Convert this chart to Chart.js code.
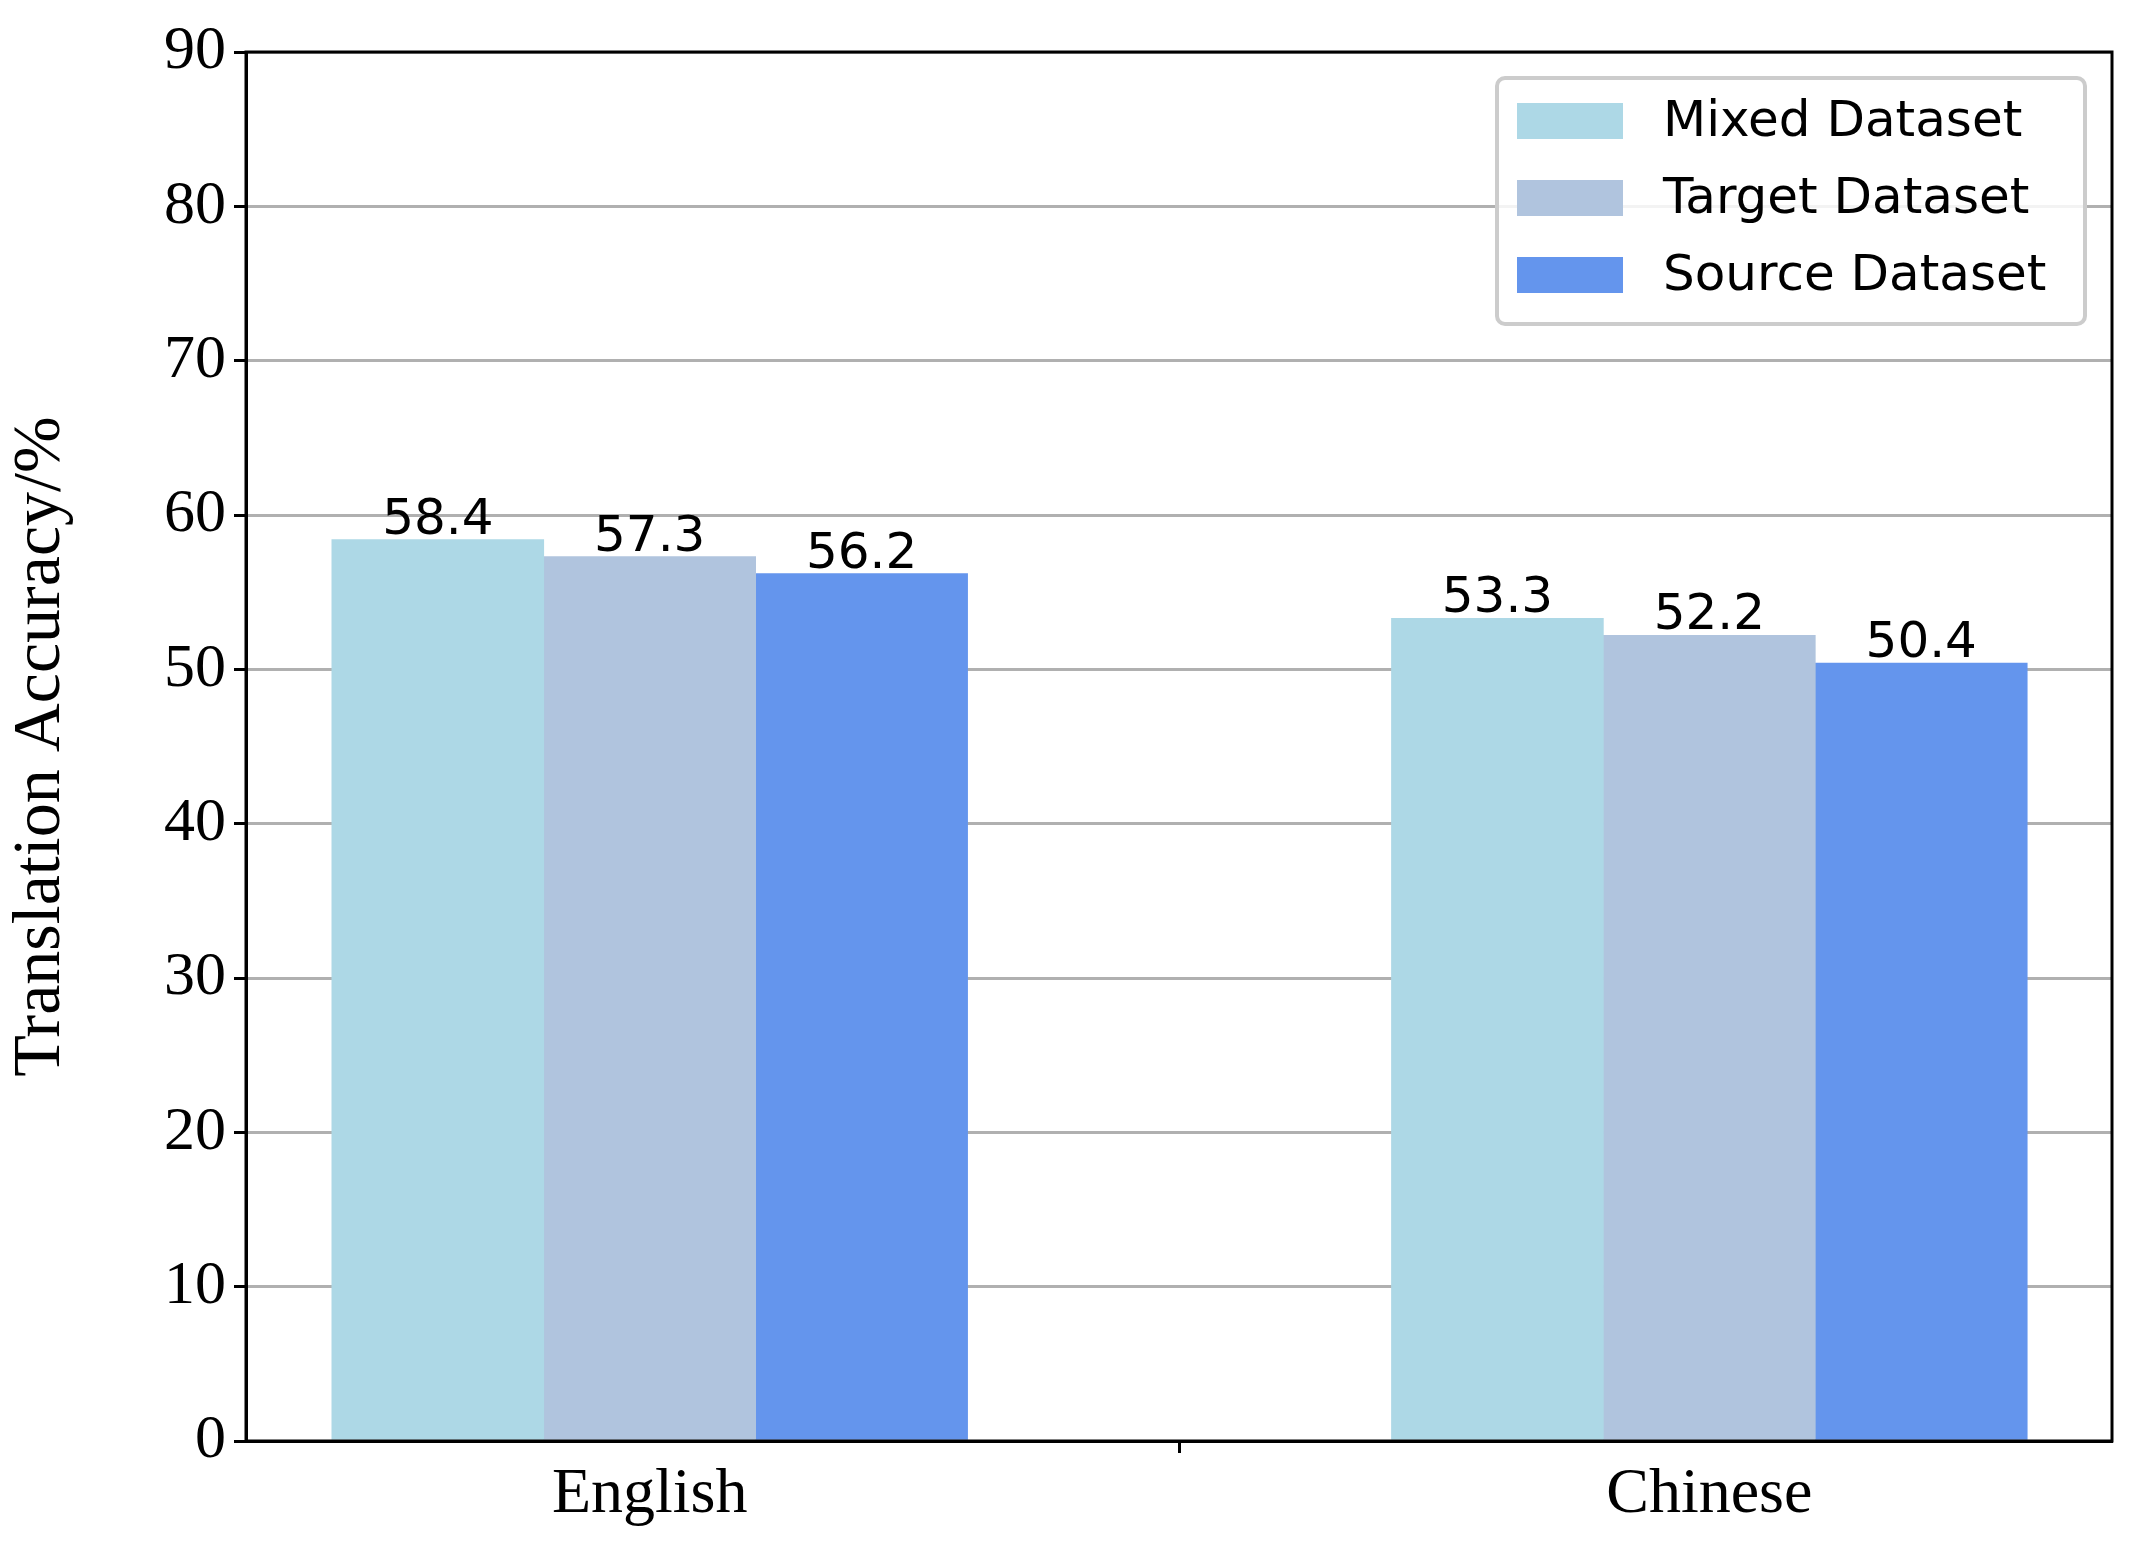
<!DOCTYPE html>
<html><head><meta charset="utf-8">
<script src="https://cdn.jsdelivr.net/npm/chart.js@4/dist/chart.umd.min.js"></script>
<style>html,body{margin:0;padding:0;background:#fff}#wrap{width:2135px;height:1557px}</style>
</head><body><div id="wrap"><canvas id="c"></canvas></div>
<script>
const categories = ["English", "Chinese"];
const seriesNames = ["Mixed Dataset", "Target Dataset", "Source Dataset"];
const mixed = [58.4, 53.3];
const target = [57.3, 52.2];
const source = [56.2, 50.4];
const colors = ["#ADD8E6", "#B0C4DE", "#6495ED"];
const yTicks = [0,10,20,30,40,50,60,70,80,90];
const offsets = [-0.2, 0, 0.2];
const seriesVals = [mixed, target, source];

const datasets = seriesVals.map((vals, s) => ({
  label: seriesNames[s],
  data: vals.map((v, i) => ({x: i + offsets[s], y: v})),
  backgroundColor: colors[s],
  barPercentage: 1, categoryPercentage: 1, grouped: false
}));

const frame = {
  id: 'frame',
  afterDatasetsDraw(chart) {
    const ctx = chart.ctx, a = chart.chartArea;
    // data labels
    ctx.save();
    ctx.font = '50px "DejaVu Sans"';
    ctx.fillStyle = '#000'; ctx.textAlign = 'center'; ctx.textBaseline = 'bottom';
    chart.data.datasets.forEach((d, di) => {
      chart.getDatasetMeta(di).data.forEach((bar, i) => {
        ctx.fillText(seriesVals[di][i].toFixed(1), bar.x, bar.y + 6);
      });
    });
    // border
    ctx.strokeStyle = '#000'; ctx.lineWidth = 3;
    ctx.strokeRect(a.left, a.top, a.right - a.left, a.bottom - a.top);
    // legend
    const lx = 1497, ly = 78, lw = 588, lh = 246;
    ctx.fillStyle = 'rgba(255,255,255,0.85)';
    ctx.beginPath(); ctx.roundRect(lx, ly, lw, lh, 8); ctx.fill();
    ctx.strokeStyle = '#ccc'; ctx.lineWidth = 4; ctx.stroke();
    ctx.font = '50px "DejaVu Sans"'; ctx.textAlign = 'left'; ctx.textBaseline = 'middle';
    chart.data.datasets.forEach((d, i) => {
      const cy = ly + 43 + i * 77;
      ctx.fillStyle = d.backgroundColor;
      ctx.fillRect(lx + 20, cy - 18, 106, 36);
      ctx.fillStyle = '#000';
      ctx.fillText(d.label, lx + 166, cy + 2);
    });
    ctx.restore();
  }
};

new Chart(document.getElementById('c'), {
  type: 'bar',
  data: { datasets },
  plugins: [frame],
  options: {
    responsive: true, maintainAspectRatio: false, animation: false,
    layout: { padding: { top: 52, right: 23, left: 0, bottom: 0 } },
    plugins: { legend: { display: false }, tooltip: { enabled: false } },
    scales: {
      x: {
        type: 'linear', min: -0.381, max: 1.380, offset: false,
        afterBuildTicks: s => { s.ticks = categories.map((c, i) => ({value: i})); },
        afterFit: s => { s.height = 116; },
        ticks: { callback: v => categories[v], font: { family: '"Liberation Serif"', size: 64 }, color: '#000', padding: 4, maxRotation: 0 },
        grid: { drawOnChartArea: false, drawTicks: true, tickLength: 12, tickWidth: 3, tickColor: '#000' },
        border: { display: true, color: '#000', width: 3 }
      },
      y: {
        min: 0, max: 90,
        afterBuildTicks: s => { s.ticks = yTicks.map(v => ({value: v})); },
        afterFit: s => { s.width = 246; },
        ticks: { font: { family: '"Liberation Serif"', size: 62 }, color: '#000', padding: 8 },
        grid: { color: '#b0b0b0', lineWidth: 3, borderDash: [12, 6], tickLength: 12, tickWidth: 3, tickColor: '#000', tickBorderDash: [] },
        border: { display: true, color: '#000', width: 3 },
        title: { display: true, text: 'Translation Accuracy/%', font: { family: '"Liberation Serif"', size: 68 }, color: '#000', padding: 0 }
      }
    }
  }
});
</script></body></html>
